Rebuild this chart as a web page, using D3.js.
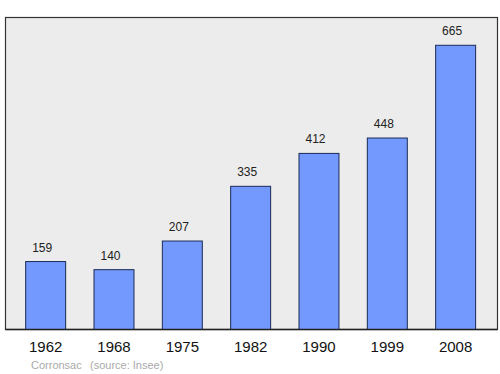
<!DOCTYPE html>
<html>
<head>
<meta charset="utf-8">
<style>
  body { margin: 0; background: #fff; }
  text { font-family: "Liberation Sans", Arial, sans-serif; }
</style>
<script src="https://cdn.jsdelivr.net/npm/d3@7"></script>
</head>
<body>
<svg width="500" height="374"></svg>
<script>
// population figures
const years = ["1962", "1968", "1975", "1982", "1990", "1999", "2008"];
const population = [159, 140, 207, 335, 412, 448, 665];
const town = "Corronsac";
const source = "(source: Insee)";

const svg = d3.select("svg");

const frame = {left: 5.5, top: 17.5, right: 497.5, bottom: 329.5};

const x = d3.scaleBand()
    .domain(years)
    .range([11.5, 489.8])
    .paddingInner(0.415)
    .paddingOuter(0.2075);

const y = d3.scaleLinear()
    .domain([0, 730])
    .range([frame.bottom, frame.top]);

// background box
svg.append("rect")
    .attr("x", frame.left)
    .attr("y", frame.top)
    .attr("width", frame.right - frame.left)
    .attr("height", frame.bottom - frame.top)
    .attr("fill", "#ececec")
    .attr("stroke", "#333")
    .attr("stroke-width", 1.2);

const data = years.map((yr, i) => ({year: yr, value: population[i]}));

svg.append("g").selectAll("rect")
    .data(data)
    .enter().append("rect")
    .attr("x", d => x(d.year))
    .attr("y", d => y(d.value))
    .attr("width", x.bandwidth())
    .attr("height", d => y(0) - y(d.value))
    .attr("fill", "#7399ff")
    .attr("stroke", "#1a2a55")
    .attr("stroke-width", 1);

// value labels (sit a little left of the bar centre in the original)
svg.append("g").selectAll("text")
    .data(data)
    .enter().append("text")
    .attr("x", d => x(d.year) + x.bandwidth() / 2 - 3.5)
    .attr("y", d => y(d.value) - 10)
    .attr("text-anchor", "middle")
    .attr("font-size", 12)
    .attr("fill", "#222")
    .text(d => d.value);

// baseline
svg.append("line")
    .attr("x1", frame.left)
    .attr("x2", frame.right)
    .attr("y1", frame.bottom)
    .attr("y2", frame.bottom)
    .attr("stroke", "#222")
    .attr("stroke-width", 1.5);

// year labels
svg.append("g").selectAll("text")
    .data(years)
    .enter().append("text")
    .attr("x", d => x(d) + x.bandwidth() / 2)
    .attr("y", 352)
    .attr("text-anchor", "middle")
    .attr("font-size", 15)
    .attr("fill", "#111")
    .text(d => d);

svg.append("text")
    .attr("x", 31)
    .attr("y", 369)
    .attr("font-size", 11)
    .attr("fill", "#aaa")
    .text(town);

svg.append("text")
    .attr("x", 90)
    .attr("y", 369)
    .attr("font-size", 11)
    .attr("fill", "#aaa")
    .text(source);
</script>
</body>
</html>
